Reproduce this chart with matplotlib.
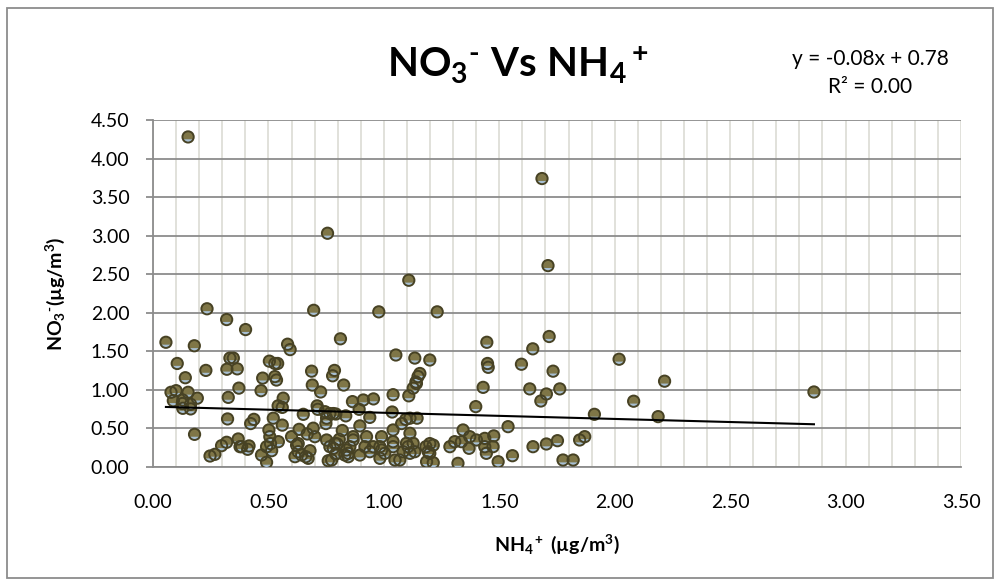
import numpy as np
import matplotlib.pyplot as plt
from matplotlib.path import Path
from matplotlib.patches import Rectangle

plt.rcParams['font.family'] = ['Lato', 'DejaVu Sans']
plt.rcParams['mathtext.fontset'] = 'custom'
plt.rcParams['mathtext.rm'] = 'Lato'
plt.rcParams['mathtext.bf'] = 'Lato:bold'
plt.rcParams['mathtext.it'] = 'Lato:italic'

# NH4+ and NO3- concentrations (ug/m3)
nh4 = [0.152, 0.756, 0.234, 0.319, 0.696, 1.685, 1.711, 1.108, 0.978, 1.231,
       2.019, 2.216, 2.863, 2.082, 1.912, 2.188, 1.848, 1.870, 1.776, 1.820,
       1.762, 1.752,
       0.401, 0.056, 0.179, 0.812, 0.583, 0.594, 0.105, 0.333, 0.348, 0.320,
       0.365, 0.229, 0.504, 0.528, 0.540, 0.475, 0.528, 0.535, 0.140, 0.687,
       0.786, 0.778, 0.078, 0.100, 0.152, 0.372, 0.468, 0.690, 0.726, 0.826,
       0.088, 0.129, 0.192, 0.326, 0.129, 0.163, 0.163, 0.564, 0.542, 0.560,
       0.711, 0.714, 0.651, 0.745, 0.781, 0.792, 0.835, 0.864, 0.323, 0.423,
       0.437, 0.521, 0.560, 0.749, 0.752, 0.180, 0.502, 0.600, 0.633, 0.668,
       0.694, 0.701, 0.820, 0.752, 0.369, 0.377, 0.319, 0.297, 0.416, 0.410,
       0.247, 0.268, 0.506, 0.509, 0.543, 0.492, 0.470, 0.492, 0.514, 0.622,
       0.629, 0.615, 0.644, 0.662, 0.680, 0.759, 0.781, 0.798, 0.792, 0.831,
       0.838, 0.807,
       1.446, 1.716, 1.645, 1.052, 1.134, 1.199, 1.449, 1.452, 1.596, 1.733,
       1.156, 1.148, 1.139, 1.127, 1.108, 1.430, 1.632, 1.040, 0.955, 0.911,
       0.893, 1.704, 1.680, 1.398, 1.036, 0.766, 0.939, 1.095, 1.113, 1.144,
       1.077, 0.896, 1.040, 1.113, 1.343, 1.538, 1.476, 1.372, 1.401, 1.437,
       1.307, 1.336, 1.286, 1.369, 1.437, 1.473, 1.444, 1.495, 1.321, 1.557,
       1.646, 1.704, 1.182, 1.199, 1.214, 1.185, 1.214, 1.199,
       0.788, 0.795, 0.846, 0.853, 0.867, 0.896, 0.925, 0.918, 0.954, 0.990,
       0.983, 1.004, 0.983, 1.040, 1.048, 1.069, 1.083, 1.105, 1.113, 1.134,
       1.127, 0.774,
       1.141, 1.192, 1.098, 0.384, 0.127, 0.867, 1.040, 0.629, 0.672, 0.766,
       0.846, 0.939, 0.990]
no3 = [4.28, 3.03, 2.05, 1.91, 2.03, 3.74, 2.61, 2.42, 2.01, 2.01,
       1.395, 1.11, 0.97, 0.85, 0.68, 0.65, 0.347, 0.39, 0.087, 0.087,
       1.01, 0.338,
       1.78, 1.615, 1.57, 1.66, 1.59, 1.52, 1.34, 1.41, 1.41, 1.265,
       1.27, 1.25, 1.37, 1.34, 1.34, 1.15, 1.17, 1.125, 1.155, 1.24,
       1.25, 1.18, 0.966, 0.987, 0.966, 1.02, 0.987, 1.06, 0.97, 1.06,
       0.857, 0.866, 0.89, 0.90, 0.758, 0.75, 0.81, 0.89, 0.79, 0.77,
       0.79, 0.745, 0.68, 0.714, 0.69, 0.684, 0.66, 0.845, 0.62, 0.56,
       0.615, 0.63, 0.54, 0.56, 0.63, 0.42, 0.477, 0.39, 0.485, 0.425,
       0.50, 0.39, 0.47, 0.347, 0.36, 0.26, 0.317, 0.273, 0.27, 0.226,
       0.139, 0.161, 0.39, 0.30, 0.325, 0.26, 0.152, 0.057, 0.208, 0.28,
       0.195, 0.13, 0.152, 0.13, 0.208, 0.078, 0.239, 0.295, 0.165, 0.152,
       0.217, 0.356,
       1.615, 1.69, 1.53, 1.45, 1.41, 1.385, 1.34, 1.29, 1.33, 1.24,
       1.21, 1.17, 1.10, 1.02, 0.92, 1.03, 1.01, 0.935, 0.88, 0.866,
       0.745, 0.944, 0.853, 0.78, 0.71, 0.69, 0.64, 0.615, 0.63, 0.63,
       0.56, 0.53, 0.477, 0.434, 0.477, 0.52, 0.40, 0.39, 0.347, 0.368,
       0.325, 0.325, 0.26, 0.239, 0.26, 0.26, 0.174, 0.065, 0.044, 0.143,
       0.26, 0.295, 0.26, 0.30, 0.28, 0.065, 0.052, 0.174,
       0.304, 0.174, 0.174, 0.26, 0.347, 0.152, 0.39, 0.26, 0.26, 0.39,
       0.26, 0.174, 0.109, 0.26, 0.087, 0.087, 0.195, 0.26, 0.174, 0.195,
       0.304, 0.087,
       1.08, 0.195, 0.304, 0.26, 0.82, 0.39, 0.325, 0.30, 0.109, 0.26,
       0.13, 0.195, 0.217]

# linear trendline as reported on the chart
slope = -0.08
intercept = 0.78
r2 = 0.00

x = np.array(nh4)
y = np.array(no3)

fig = plt.figure(figsize=(10, 5.85), dpi=100)
fig.patches.append(Rectangle((0.007, 0.012), 0.986, 0.975, transform=fig.transFigure,
                             fill=False, edgecolor='#8c8c8c', linewidth=1.3))

ax = fig.add_axes([0.153, 0.2022, 0.808, 0.5927])
ax.set_xlim(0, 3.5)
ax.set_ylim(0, 4.5)
ax.set_xticks(np.arange(0, 3.51, 0.5))
ax.set_yticks(np.arange(0, 4.51, 0.5))
ax.set_xticks(np.arange(0, 3.51, 0.1), minor=True)
ax.xaxis.set_major_formatter('{x:.2f}')
ax.yaxis.set_major_formatter('{x:.2f}')

ax.grid(which='minor', axis='x', color='#dcdcd4', linewidth=1.2)
ax.grid(which='major', axis='x', color='#dcdcd4', linewidth=1.2)
ax.grid(which='major', axis='y', color='#8c8c8c', linewidth=1.3)
ax.set_axisbelow(True)

for side in ['top', 'right']:
    ax.spines[side].set_visible(False)
for side in ['left', 'bottom']:
    ax.spines[side].set_color('#8c8c8c')
    ax.spines[side].set_linewidth(1.3)

ax.tick_params(axis='y', which='major', length=5, color='#8c8c8c', width=1.3,
               labelsize=14, pad=12)
ax.tick_params(axis='x', which='both', length=0, labelsize=14, pad=20)

# markers: olive body, pale blue lower band, dark rim
theta = np.linspace(np.radians(205), np.radians(335), 30)
band = np.column_stack([np.cos(theta), np.sin(theta)])
band = np.vstack([band, band[:1]])
band_marker = Path(band, closed=True)

ms = 66
ax.scatter(x, y, s=ms, marker='o', facecolor='#7f7647', edgecolor='none', zorder=3)
ax.scatter(x, y, s=ms, marker=band_marker, facecolor='#a7bfd2', edgecolor='none', zorder=3)
ax.scatter(x, y, s=ms, marker='o', facecolor='none', edgecolor='#474224',
           linewidth=1.4, zorder=3)

xl = np.array([x.min(), x.max()])
ax.plot(xl, slope * xl + intercept, color='black', linewidth=1.5, zorder=4)

fig.text(0.518, 0.888, '$\\mathbf{NO_3{}^{\u2010}\\ Vs\\ NH_4{}^+}$', fontsize=29,
         ha='center', va='center')
fig.text(0.870, 0.899, f'y = {slope:.2f}x + {intercept:.2f}', fontsize=15,
         ha='center', va='center')
fig.text(0.870, 0.851, f'R² = {r2:.2f}', fontsize=15, ha='center', va='center')

fig.text(0.557, 0.07, r'$\mathbf{NH_4{}^+\ (µg/m^3)}$', fontsize=14,
         ha='center', va='center')
fig.text(0.055, 0.498, '$\\mathbf{NO_3{}^{\u2010}(µg/m^3)}$', fontsize=14,
         ha='center', va='center', rotation=90)

fig.savefig('out.png', dpi=100)
